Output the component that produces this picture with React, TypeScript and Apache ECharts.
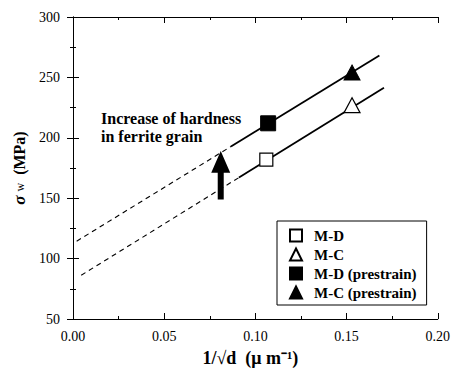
import React, { useEffect, useRef } from 'react';
import * as echarts from 'echarts';

const xRange = [0, 0.2];
const xInterval = 0.05;
const yRange = [50, 300];
const yInterval = 50;

const seriesNames = ['M-D', 'M-C', 'M-D (prestrain)', 'M-C (prestrain)'];
const mdPoints = [[0.106, 182]];
const mcPoints = [[0.153, 227]];
const mdPrestrainPoints = [[0.107, 212]];
const mcPrestrainPoints = [[0.153, 254]];

const upperFitDashed = [[0.002, 114.4], [0.0866, 192.8]];
const upperFitSolid = [[0.0866, 192.8], [0.168, 268.2]];
const lowerFitDashed = [[0.0045, 86.2], [0.091, 167.1]];
const lowerFitSolid = [[0.091, 167.1], [0.1705, 241.4]];

// x, bottom, head base, tip
const arrowData = [[0.081, 149, 171, 189]];
const annotationLines = ['Increase of hardness', 'in ferrite grain'];

const FONT = 'Liberation Serif';

export default function App() {
  const ref = useRef<HTMLDivElement>(null);
  useEffect(() => {
    if (!ref.current) return;
    const chart = echarts.init(ref.current, null, { renderer: 'svg' });
    const axisCommon = {
      axisLine: { show: true, lineStyle: { color: '#000', width: 1 } },
      axisTick: { show: true, inside: true, length: 6, lineStyle: { color: '#000' } },
      minorTick: { show: true, splitNumber: 2, length: 3, lineStyle: { color: '#000' } },
      splitLine: { show: false },
    };
    const option: any = {
      animation: false,
      backgroundColor: '#fff',
      textStyle: { fontFamily: FONT },
      grid: { left: 73, right: 13, top: 17, bottom: 54, containLabel: false },
      xAxis: [
        {
          type: 'value', min: xRange[0], max: xRange[1], interval: xInterval, position: 'bottom',
          ...axisCommon,
          axisLabel: { color: '#000', fontFamily: FONT, fontSize: 14, margin: 10, formatter: (v: number) => v.toFixed(2) },
          name: '1/√d  (μ m⁻¹)', nameLocation: 'middle', nameGap: 30,
          nameTextStyle: { color: '#000', fontFamily: FONT, fontSize: 18, fontWeight: 'bold', padding: [0, 10, 0, 0] },
        },
        {
          type: 'value', min: xRange[0], max: xRange[1], interval: xInterval, position: 'top',
          ...axisCommon, axisLabel: { show: false },
        },
      ],
      yAxis: [
        {
          type: 'value', min: yRange[0], max: yRange[1], interval: yInterval, position: 'left',
          ...axisCommon,
          axisLabel: { color: '#000', fontFamily: FONT, fontSize: 14, margin: 13 },
          name: '{s|σ} {w|w}  (MPa)', nameLocation: 'middle', nameGap: 42,
          nameTextStyle: {
            color: '#000', fontFamily: FONT, fontSize: 16, fontWeight: 'bold',
            rich: {
              s: { fontFamily: FONT, fontSize: 17, fontStyle: 'italic', fontWeight: 'bold', color: '#000' },
              w: { fontFamily: FONT, fontSize: 12, fontWeight: 'normal', color: '#000' },
            },
          },
        },
        {
          type: 'value', min: yRange[0], max: yRange[1], interval: yInterval, position: 'right',
          ...axisCommon, axisLabel: { show: false },
        },
      ],
      legend: {
        data: seriesNames,
        orient: 'vertical',
        left: 277, top: 221,
        padding: [7, 10, 5, 12],
        borderColor: '#000', borderWidth: 1,
        itemWidth: 12, itemHeight: 12, itemGap: 4,
        textStyle: { color: '#000', fontFamily: FONT, fontSize: 15, fontWeight: 'bold', lineHeight: 15, padding: [0, 0, 0, 7] },
      },
      graphic: [
        {
          type: 'text', left: 101, top: 109,
          style: { text: annotationLines.join('\n'), fontFamily: FONT, fontSize: 16, fontWeight: 'bold', fill: '#000', lineHeight: 18 },
        },
      ],
      series: [
        { type: 'line', data: upperFitDashed, symbol: 'none', lineStyle: { color: '#000', width: 1.1, type: [5, 4] }, silent: true },
        { type: 'line', data: upperFitSolid, symbol: 'none', lineStyle: { color: '#000', width: 1.8 }, silent: true },
        { type: 'line', data: lowerFitDashed, symbol: 'none', lineStyle: { color: '#000', width: 1.1, type: [5, 4] }, silent: true },
        { type: 'line', data: lowerFitSolid, symbol: 'none', lineStyle: { color: '#000', width: 1.8 }, silent: true },
        {
          type: 'custom', data: arrowData, silent: true, encode: { x: 0, y: [1, 2, 3] },
          renderItem: (params: any, api: any) => {
            const x = api.value(0);
            const base = api.coord([x, api.value(1)]);
            const neck = api.coord([x, api.value(2)]);
            const tip = api.coord([x, api.value(3)]);
            const sw = 3, hw = 9.5;
            return {
              type: 'polygon',
              shape: {
                points: [
                  [base[0] - sw, base[1]], [base[0] + sw, base[1]], [base[0] + sw, neck[1]],
                  [base[0] + hw, neck[1]], [tip[0], tip[1]], [base[0] - hw, neck[1]], [base[0] - sw, neck[1]],
                ],
              },
              style: { fill: '#000' },
            };
          },
        },
        { name: seriesNames[0], type: 'scatter', data: mdPoints, symbol: 'rect', symbolSize: 13, itemStyle: { color: '#fff', borderColor: '#000', borderWidth: 1.2, opacity: 1 }, z: 5 },
        { name: seriesNames[1], type: 'scatter', data: mcPoints, symbol: 'triangle', symbolSize: [16, 15], itemStyle: { color: '#fff', borderColor: '#000', borderWidth: 1.2, opacity: 1 }, z: 5 },
        { name: seriesNames[2], type: 'scatter', data: mdPrestrainPoints, symbol: 'rect', symbolSize: 15, itemStyle: { color: '#000', borderColor: '#000', borderWidth: 1, opacity: 1 }, z: 5 },
        { name: seriesNames[3], type: 'scatter', data: mcPrestrainPoints, symbol: 'triangle', symbolSize: [16, 15], itemStyle: { color: '#000', borderColor: '#000', borderWidth: 1, opacity: 1 }, z: 5 },
      ],
    };
    chart.setOption(option);
    return () => chart.dispose();
  }, []);
  return <div ref={ref} style={{ position: 'fixed', left: 0, top: 0, width: 453, height: 373, background: '#fff' }} />;
}
